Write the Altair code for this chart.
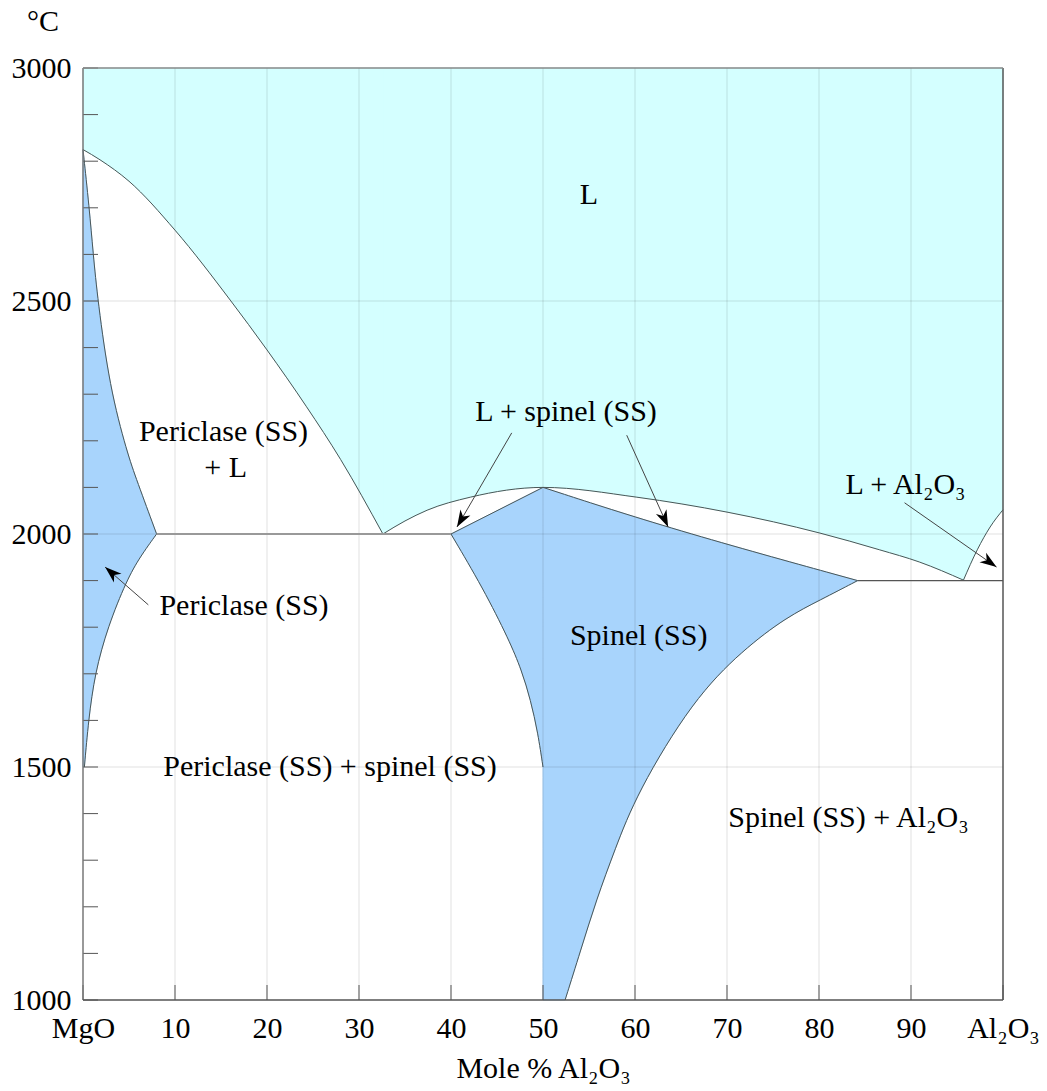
import math
import altair as alt
import pandas as pd

W, H = 920, 932
FONT = "'Liberation Serif', 'Times New Roman', Times, 'DejaVu Serif', serif"
CYAN = "#d4ffff"
BLUE = "#a8d4fc"
LINE = "#4a5656"

# ---- liquidus (x = mole % Al2O3, t = deg C) ----
liq_a_x = [0, 1.85, 5, 10, 16, 20, 24.3, 28, 32.6]
liq_a_t = [2825, 2803, 2757, 2652, 2502, 2395, 2273, 2160, 2000]
liq_b_x = [32.6, 35, 37.4, 42.1, 50, 60.2, 70, 80.1, 86.6, 90.9, 95.7]
liq_b_t = [2000, 2028, 2051, 2079, 2100, 2079, 2047, 2002, 1966, 1940, 1901]
liq_c_x = [95.7, 97.2, 98.6, 100]
liq_c_t = [1901, 1966, 2015, 2052]

# ---- periclase (SS) boundaries ----
per_sol_x = [0, 0.68, 1.1, 1.6, 2.9, 4.8, 5.83, 8.0]
per_sol_t = [2825, 2700, 2603, 2502, 2315, 2174, 2116, 2000]
per_solv_x = [8.0, 6.2, 4.75, 2.7, 1.3, 0.6, 0.15]
per_solv_t = [2000, 1951, 1901, 1801, 1702, 1601, 1500]

# ---- spinel (SS) boundaries ----
sp_tl_x = [40, 50]
sp_tl_t = [2000, 2100]
sp_tr_x = [50, 64, 84.2]
sp_tr_t = [2100, 2010, 1900]
sp_left_x = [40, 43.5, 46.3, 47.67, 48.65, 49.45, 50]
sp_left_t = [2000, 1883, 1773, 1708, 1644, 1573, 1500]
sp_right_x = [52.4, 54.1, 55.8, 57.8, 60.2, 66.3, 71.7, 76.5, 80.1, 84.2]
sp_right_t = [1000, 1107, 1215, 1322, 1444, 1644, 1751, 1822, 1858, 1900]

# ---- invariant lines ----
eut1_x = [8, 40]
eut1_t = [2000, 2000]
eut2_x = [84.2, 100]
eut2_t = [1900, 1900]

# ---- labels ----
lab_text = ["L", "Periclase (SS)", "+ L", "L + spinel (SS)", "L + Al₂O₃",
            "Periclase (SS)", "Spinel (SS)", "Periclase (SS) + spinel (SS)",
            "Spinel (SS) + Al₂O₃"]
lab_x = [55.0, 15.27, 15.5, 52.5, 89.4, 17.5, 60.4, 26.85, 83.2]
lab_t = [2727, 2219, 2142, 2262, 2105, 1845, 1781, 1500, 1391]

# ---- arrows ----
arr_x0 = [46.6, 59.1, 89.3, 7.1]
arr_t0 = [2217, 2212, 2067, 1848]
arr_x1 = [40.65, 63.6, 99.3, 2.4]
arr_t1 = [2015, 2015, 1929, 1929]

x_ticks = list(range(0, 101, 10))
y_ticks = list(range(1000, 3001, 100))
y_labels = list(range(1000, 3001, 500))
x_grid = list(range(10, 91, 10))
t_grid = [1500, 2000, 2500]


def rows(name, xs, ts):
    return [{"curve": name, "x": a, "t": b, "seq": i} for i, (a, b) in enumerate(zip(xs, ts))]


liq_df = pd.DataFrame(rows("A", liq_a_x, liq_a_t) + rows("B", liq_b_x, liq_b_t) + rows("C", liq_c_x, liq_c_t))
per_df = pd.DataFrame(rows("sol", per_sol_x, per_sol_t) + rows("solv", per_solv_x, per_solv_t))
sp_df = pd.DataFrame(rows("tl", sp_tl_x, sp_tl_t) + rows("tr", sp_tr_x, sp_tr_t)
                     + rows("left", sp_left_x, sp_left_t) + rows("right", sp_right_x, sp_right_t))
ss_df = pd.concat([per_df, sp_df], ignore_index=True)
eut1_df = pd.DataFrame(rows("e1", eut1_x, eut1_t))
eut2_df = pd.DataFrame(rows("e2", eut2_x, eut2_t))
lab_df = pd.DataFrame({"label": lab_text, "x": lab_x, "t": lab_t})

sx, sy = W / 100.0, H / 2000.0
angs = []
for a, b, c, d in zip(arr_x0, arr_t0, arr_x1, arr_t1):
    dx = (c - a) * sx
    dy = -(d - b) * sy
    angs.append(math.degrees(math.atan2(dx, -dy)) % 360)
arr_df = pd.DataFrame({"x": arr_x0, "t": arr_t0, "x2": arr_x1, "t2": arr_t1, "ang": angs})
head_df = pd.DataFrame({"x": arr_x1, "t": arr_t1, "ang": angs})

xscale = alt.Scale(domain=[0, 100], nice=False, zero=False)
yscale = alt.Scale(domain=[1000, 3000], nice=False, zero=False)
xaxis = alt.Axis(values=x_ticks, grid=False, domain=False, ticks=False,
                 labelExpr="datum.value == 0 ? 'MgO' : (datum.value == 100 ? 'Al₂O₃' : datum.label)",
                 labelFont=FONT, labelFontSize=30, labelColor="black", labelPadding=13,
                 labelOverlap=False, labelFlush=False,
                 title="Mole % Al₂O₃", titleFont=FONT, titleFontSize=30,
                 titleFontWeight="normal", titleColor="black", titlePadding=10)
yaxis = alt.Axis(values=y_labels, grid=False, domain=False, ticks=False, format="d",
                 labelFont=FONT, labelFontSize=30, labelColor="black", labelPadding=12,
                 title=None)
X = alt.X("x:Q", scale=xscale, axis=xaxis)
Y = alt.Y("t:Q", scale=yscale, axis=yaxis)

cyan = alt.Chart(liq_df).mark_area(color=CYAN, stroke=CYAN, strokeWidth=1, interpolate="monotone").encode(
    x=X, y=Y, y2=alt.datum(3000), detail="curve:N")
per = alt.Chart(per_df).mark_area(color=BLUE, stroke=BLUE, strokeWidth=1, interpolate="basis",
                                  orient="horizontal").encode(
    y=Y, x=X, x2=alt.datum(0), detail="curve:N")
sp = alt.Chart(sp_df).mark_area(color=BLUE, stroke=BLUE, strokeWidth=1, interpolate="basis",
                                orient="horizontal").encode(
    y=Y, x=X, x2=alt.datum(50), detail="curve:N")

gridv = alt.Chart(pd.DataFrame({"x": x_grid})).mark_rule(color="black", opacity=0.12, strokeWidth=1).encode(x=X)
gridh = alt.Chart(pd.DataFrame({"t": t_grid})).mark_rule(color="black", opacity=0.12, strokeWidth=1).encode(y=Y)

liq_lines = alt.Chart(liq_df).mark_line(color=LINE, strokeWidth=1, interpolate="monotone").encode(
    x=X, y=Y, detail="curve:N", order="seq:Q")
ss_lines = alt.Chart(ss_df).mark_line(color=LINE, strokeWidth=1, interpolate="basis").encode(
    x=X, y=Y, detail="curve:N", order="seq:Q")
eut1 = alt.Chart(eut1_df).mark_line(color="#999999", strokeWidth=2.2).encode(x=X, y=Y)
eut2 = alt.Chart(eut2_df).mark_line(color="#555555", strokeWidth=1.3).encode(x=X, y=Y)

arrows = alt.Chart(arr_df).mark_rule(color="#444444", strokeWidth=1).encode(
    x=X, y=Y, x2="x2:Q", y2="t2:Q")
heads = alt.Chart(head_df).mark_point(shape="M0,0L0.55,1.6L0,1.15L-0.55,1.6Z", filled=True, size=440,
                                      color="black", opacity=1, strokeWidth=0).encode(
    x=X, y=Y, angle=alt.Angle("ang:Q", scale=None))

labels = alt.Chart(lab_df).mark_text(font=FONT, fontSize=30, color="black", align="center",
                                     baseline="middle").encode(x=X, y=Y, text="label:N")

yt = alt.Chart(pd.DataFrame({"t": y_ticks})).mark_rule(color="#555555", strokeWidth=1).encode(
    y=Y, x=alt.value(0), x2=alt.value(15))
xt = alt.Chart(pd.DataFrame({"x": x_ticks})).mark_rule(color="#555555", strokeWidth=1).encode(
    x=X, y=alt.value(H), y2=alt.value(H - 15))

border_df = pd.DataFrame({"k": [0]})
bl = alt.Chart(border_df).mark_rule(color="#777777", strokeWidth=1.5).encode(x=alt.value(0), y=alt.value(0), y2=alt.value(H))
br = alt.Chart(border_df).mark_rule(color="#555555", strokeWidth=1.5).encode(x=alt.value(W), y=alt.value(0), y2=alt.value(H))
bt = alt.Chart(border_df).mark_rule(color="#888888", strokeWidth=1.5).encode(y=alt.value(0), x=alt.value(0), x2=alt.value(W))
bb = alt.Chart(border_df).mark_rule(color="#555555", strokeWidth=1.5).encode(y=alt.value(H), x=alt.value(0), x2=alt.value(W))

unit = alt.Chart(pd.DataFrame({"label": ["°C"]})).mark_text(font=FONT, fontSize=30, color="black",
                                                           align="center", baseline="middle").encode(
    text="label:N", x=alt.value(-40), y=alt.value(-46))

chart = alt.layer(cyan, per, sp, gridv, gridh, liq_lines, ss_lines, eut1, eut2, arrows, heads, labels,
                  yt, xt, bl, br, bt, bb, unit).properties(
    width=W, height=H,
    padding={"left": 83, "top": 68, "right": 44, "bottom": 91},
    autosize=alt.AutoSizeParams(type="none"),
    background="white",
).configure_view(stroke="transparent")

chart.save("out.html", embed_options={"renderer": "svg", "actions": False})
